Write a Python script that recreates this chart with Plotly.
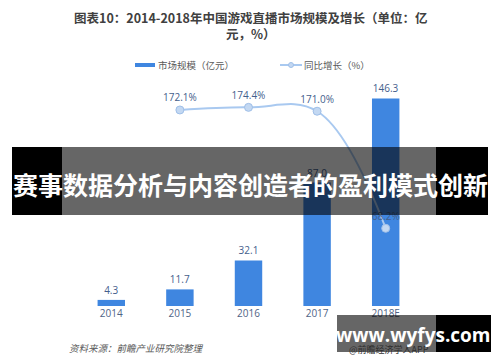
import plotly.graph_objects as go

years = ["2014", "2015", "2016", "2017", "2018E"]
market_size = [4.3, 11.7, 32.1, 87.0, 146.3]
growth_years = ["2015", "2016", "2017", "2018E"]
growth_pct = [172.1, 174.4, 171.0, 68.2]

W, H = 500, 362
ML, MR, MT, MB = 77, 80, 79, 56
PW, PH = W - ML - MR, H - MT - MB


def fx(px):
    return (px - ML) / PW


def fy(py):
    return (H - MB - py) / PH


CJK = "Noto Sans CJK SC"
LBL = "#44608c"
BAR = "#3f86e0"
LINE = "#a9c9f0"

fig = go.Figure()
fig.add_trace(go.Bar(
    x=years, y=market_size, width=0.4,
    marker=dict(color=BAR, line=dict(width=0)),
    text=[f"{v:.1f}" for v in market_size], textposition="outside",
    textfont=dict(size=10, color=LBL, family="Open Sans"),
    cliponaxis=False, yaxis="y", showlegend=False,
))
fig.add_trace(go.Scatter(
    x=growth_years, y=growth_pct, yaxis="y2",
    mode="lines+markers+text",
    line=dict(color=LINE, width=2, shape="spline", smoothing=1.1),
    marker=dict(size=8, color="#c3d8f2", line=dict(color="#9fbfe8", width=1)),
    text=[f"{v:.1f}%" for v in growth_pct], textposition="top center",
    textfont=dict(size=10, color=LBL, family="Open Sans"),
    cliponaxis=False, showlegend=False,
))

shapes = []
annotations = []

# legend
shapes.append(dict(type="rect", xref="paper", yref="paper",
                   x0=fx(135), x1=fx(155), y0=fy(67), y1=fy(63),
                   fillcolor=BAR, line=dict(width=0)))
shapes.append(dict(type="line", xref="paper", yref="paper",
                   x0=fx(280), x1=fx(302), y0=fy(65), y1=fy(65),
                   line=dict(color=LINE, width=2)))
shapes.append(dict(type="circle", xref="paper", yref="paper",
                   x0=fx(288.5), x1=fx(293.5), y0=fy(67.5), y1=fy(62.5),
                   fillcolor="#c3d8f2", line=dict(color="#9fbfe8", width=1)))
annotations.append(dict(text="市场规模（亿元）", xref="paper", yref="paper",
                        x=fx(156), y=fy(65), xanchor="left", yanchor="middle",
                        showarrow=False, font=dict(size=9.5, color="#595959", family=CJK)))
annotations.append(dict(text="同比增长（%）", xref="paper", yref="paper",
                        x=fx(302), y=fy(65), xanchor="left", yanchor="middle",
                        showarrow=False, font=dict(size=9.5, color="#595959", family=CJK)))

# title
annotations.append(dict(
    text="<b>图表10：2014-2018年中国游戏直播市场规模及增长（单位：亿</b><br><b>元，%）</b>",
    xref="paper", yref="paper", x=fx(250), y=fy(25.5), xanchor="center", yanchor="middle",
    showarrow=False, font=dict(size=12.5, color="#404040", family=CJK)))

# source
annotations.append(dict(text="<i>资料来源：前瞻产业研究院整理</i>", xref="paper", yref="paper",
                        x=fx(67), y=fy(348), xanchor="left", yanchor="middle",
                        showarrow=False, font=dict(size=9.5, color="#595959", family=CJK)))

# banner overlay
shapes.append(dict(type="rect", xref="paper", yref="paper", layer="above",
                   x0=fx(12), x1=fx(62), y0=fy(215), y1=fy(147),
                   fillcolor="#000000", line=dict(width=0)))
shapes.append(dict(type="rect", xref="paper", yref="paper", layer="above",
                   x0=fx(62), x1=fx(436), y0=fy(215), y1=fy(147),
                   fillcolor="rgba(0,0,0,0.6)", line=dict(width=0)))
shapes.append(dict(type="rect", xref="paper", yref="paper", layer="above",
                   x0=fx(436), x1=fx(488), y0=fy(215), y1=fy(147),
                   fillcolor="#000000", line=dict(width=0)))
annotations.append(dict(text="<b>赛事数据分析与内容创造者的盈利模式创新</b>",
                        xref="paper", yref="paper", x=fx(250), y=fy(183.5),
                        xanchor="center", yanchor="middle", showarrow=False,
                        font=dict(size=25, color="#ffffff", family=CJK)))

# bottom-right watermark box
shapes.append(dict(type="rect", xref="paper", yref="paper", layer="above",
                   x0=fx(337), x1=fx(436), y0=fy(352), y1=fy(315),
                   fillcolor="rgba(0,0,0,0.6)", line=dict(width=0)))
shapes.append(dict(type="rect", xref="paper", yref="paper", layer="above",
                   x0=fx(436), x1=fx(491), y0=fy(352), y1=fy(315),
                   fillcolor="#000000", line=dict(width=0)))
annotations.append(dict(text="@前瞻经济学人APP", xref="paper", yref="paper",
                        x=fx(347), y=fy(349), xanchor="left", yanchor="middle",
                        showarrow=False, font=dict(size=9, color="#2e2e2e", family=CJK)))
annotations.append(dict(text="<b>www.wyfys.com</b>", xref="paper", yref="paper",
                        x=fx(413), y=fy(335), xanchor="center", yanchor="middle",
                        showarrow=False, font=dict(size=19, color="#ffffff", family="Open Sans")))

fig.update_layout(
    width=W, height=H,
    margin=dict(l=ML, r=MR, t=MT, b=MB, pad=0),
    paper_bgcolor="#ffffff", plot_bgcolor="#ffffff",
    xaxis=dict(type="category", categoryorder="array", categoryarray=years,
               range=[-0.5, 4.5], showgrid=False, zeroline=False, showline=False,
               ticks="", tickfont=dict(size=10, color="#4f6486", family="Open Sans")),
    yaxis=dict(range=[0, 160], visible=False, fixedrange=True),
    yaxis2=dict(range=[0, 199.3], visible=False, overlaying="y", side="right"),
    shapes=shapes, annotations=annotations,
    showlegend=False,
)

fig.write_html(
    "out.html",
    config={"displayModeBar": False},
    post_script="document.body.style.margin='0';document.body.style.padding='0';document.body.style.overflow='hidden';",
)
